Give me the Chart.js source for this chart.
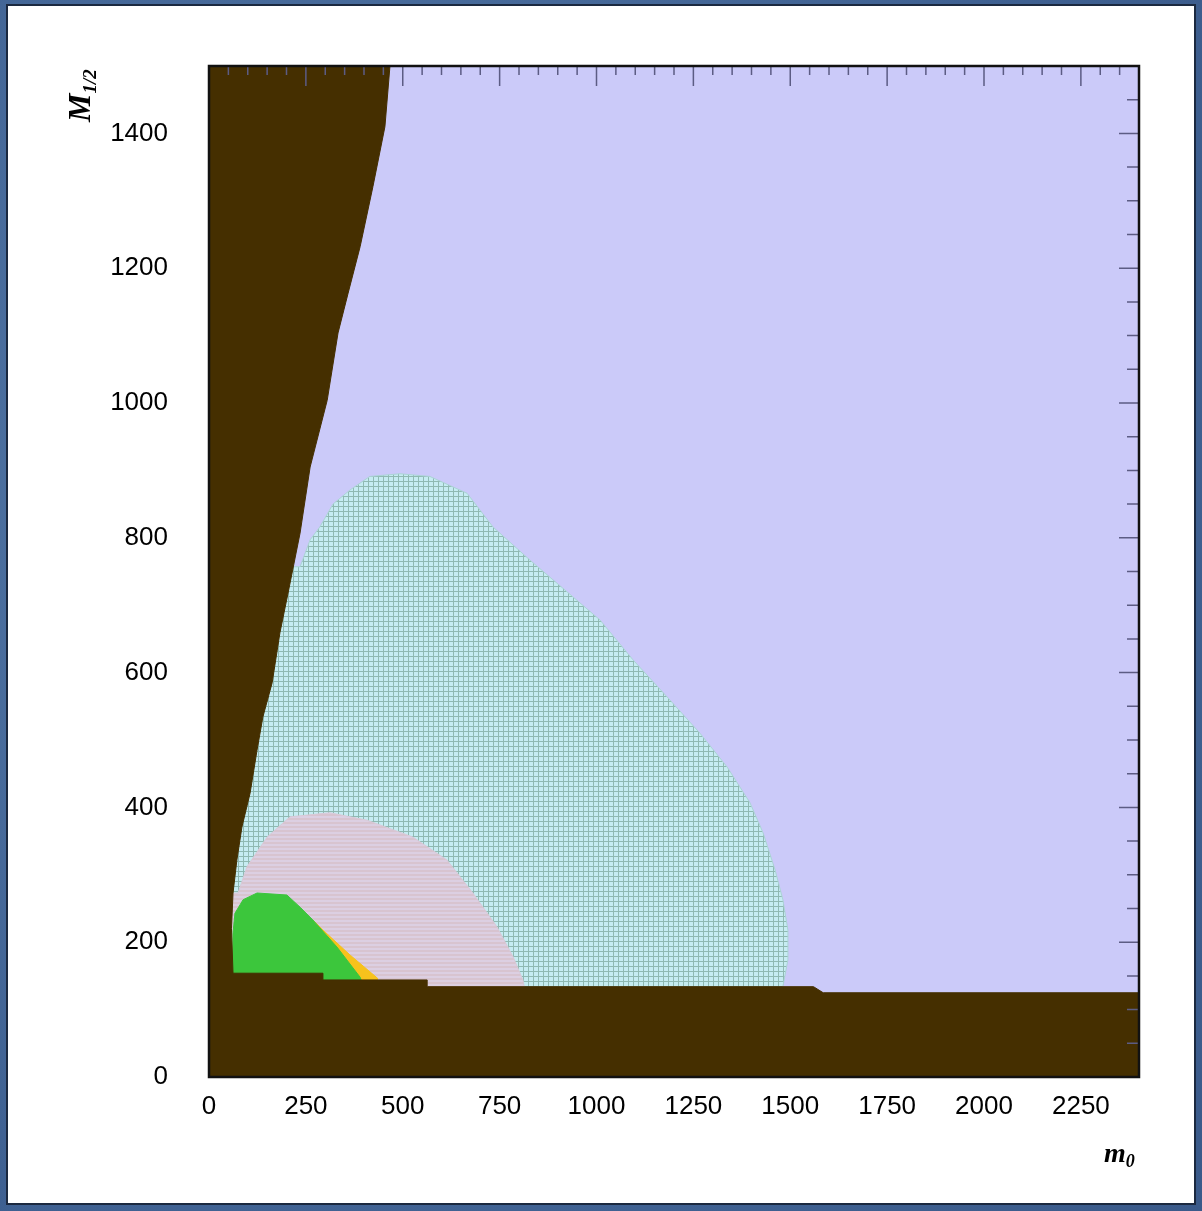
<!DOCTYPE html>
<html>
<head>
  <title>m0 - M1/2 plane</title>
  <script src="https://cdn.jsdelivr.net/npm/chart.js"></script>
  <style>
    body { margin: 0; width: 1202px; height: 1211px; overflow: hidden;
           background: radial-gradient(circle at 30% 40%, #5479a8, #3f6192 70%, #3a5a8a); }
    .panel { position: absolute; left: 8px; top: 6px; width: 1186px; height: 1197px;
             background: #fff; box-shadow: 0 0 0 2px #1b2940; }
  </style>
</head>
<body>
  <div class="panel">
    <canvas id="plane"></canvas>
  </div>

  <script>
    // tick labels
    const xTicks = [0, 250, 500, 750, 1000, 1250, 1500, 1750, 2000, 2250];
    const yTicks = [0, 200, 400, 600, 800, 1000, 1200, 1400];

    // excluded region (dark brown): left wedge + bottom band
    const excludedX = [0, 2400, 2400, 1585, 1560, 563, 563, 294, 294, 62, 58, 62, 72, 85, 106, 124, 139, 163, 183, 204, 235, 261, 305, 333, 359, 390, 423, 454, 467, 0];
    const excludedY = [0, 0, 125, 125, 134, 134, 144, 144, 154, 154, 220, 273, 322, 371, 421, 485, 534, 585, 659, 718, 807, 905, 1004, 1104, 1163, 1232, 1321, 1410, 1500, 1500];

    // large dotted region
    const gridX = [0, 1481, 1481, 1494, 1494, 1481, 1461, 1430, 1396, 1337, 1267, 1182, 1094, 1009, 828, 733, 666, 570, 493, 415, 364, 320, 286, 261, 235, 0];
    const gridY = [125, 125, 134, 174, 218, 263, 307, 362, 407, 460, 510, 564, 619, 678, 767, 816, 866, 891, 895, 891, 871, 850, 816, 797, 757, 757];

    // striped region
    const stripeX = [58, 60, 75, 98, 150, 209, 312, 408, 526, 614, 681, 743, 785, 810, 815];
    const stripeY = [130, 273, 273, 312, 356, 386, 392, 381, 356, 322, 273, 223, 178, 144, 130];

    // orange strip
    const orangeX = [268, 294, 364, 434, 434, 380];
    const orangeY = [233, 218, 181, 147, 140, 140];

    // green region
    const greenX = [60, 62, 67, 88, 124, 201, 235, 268, 330, 390, 395];
    const greenY = [140, 214, 243, 263, 273, 270, 252, 233, 193, 148, 140];

    function makePattern(size, draw) {
      const c = document.createElement('canvas');
      c.width = size; c.height = size;
      draw(c.getContext('2d'));
      return c.getContext('2d').createPattern(c, 'repeat');
    }

    const dotted = makePattern(5, g => {
      g.fillStyle = '#c6ecf2';
      g.fillRect(0, 0, 5, 5);
      g.fillStyle = '#8fb9b2';
      g.fillRect(0, 0, 5, 1);
      g.fillRect(0, 0, 1, 5);
    });

    const striped = makePattern(4, g => {
      g.fillStyle = '#dccfe2';
      g.fillRect(0, 0, 4, 4);
      g.fillStyle = '#d8c4d0';
      g.fillRect(0, 0, 4, 2);
    });

    function region(label, xs, ys, fill, edge) {
      return {
        label: label,
        data: xs.map((x, i) => ({ x: x, y: ys[i] })),
        backgroundColor: fill,
        borderColor: edge,
        borderWidth: 1,
        pointRadius: 0,
        tension: 0,
        fill: 'shape'
      };
    }

    const plotBg = {
      id: 'plotBg',
      beforeDatasetsDraw(chart) {
        const { ctx, chartArea: a } = chart;
        ctx.save();
        ctx.fillStyle = '#cbcaf9';
        ctx.fillRect(a.left, a.top, a.right - a.left, a.bottom - a.top);
        ctx.restore();
      }
    };

    const frame = {
      id: 'frame',
      afterDatasetsDraw(chart) {
        const { ctx, chartArea: a, scales } = chart;
        ctx.save();
        ctx.strokeStyle = '#5c5c84';
        ctx.lineWidth = 1.5;
        ctx.beginPath();
        for (let v = 0; v <= 2400; v += 50) {
          const px = scales.x.getPixelForValue(v);
          const len = xTicks.includes(v) ? 20 : 9;
          ctx.moveTo(px, a.top);
          ctx.lineTo(px, a.top + len);
        }
        for (let v = 0; v <= 1500; v += 50) {
          const py = scales.y.getPixelForValue(v);
          const len = yTicks.includes(v) ? 20 : 12;
          ctx.moveTo(a.right, py);
          ctx.lineTo(a.right - len, py);
        }
        ctx.stroke();
        ctx.strokeStyle = '#111';
        ctx.lineWidth = 2.5;
        ctx.strokeRect(a.left, a.top, a.right - a.left, a.bottom - a.top);

        // axis titles
        ctx.fillStyle = '#000';
        ctx.textBaseline = 'alphabetic';
        ctx.textAlign = 'left';
        ctx.save();
        ctx.translate(82, 116);
        ctx.rotate(-Math.PI / 2);
        ctx.font = 'italic bold 32px "Liberation Serif"';
        ctx.fillText('M', 0, 0);
        const w = ctx.measureText('M').width;
        ctx.font = 'italic bold 19px "Liberation Serif"';
        ctx.fillText('1/2', w, 6);
        ctx.restore();

        ctx.font = 'italic bold 28px "Liberation Serif"';
        ctx.fillText('m', 1096, 1156);
        const mw = ctx.measureText('m').width;
        ctx.font = 'italic bold 18px "Liberation Serif"';
        ctx.fillText('0', 1096 + mw, 1161);
        ctx.restore();
      }
    };

    const tickFont = { family: 'Liberation Sans', size: 26 };

    new Chart(document.getElementById('plane').getContext('2d'), {
      type: 'line',
      data: {
        datasets: [
          region('excluded', excludedX, excludedY, '#452f00', '#452f00'),
          region('green', greenX, greenY, '#3cc63c', '#3cc63c'),
          region('orange', orangeX, orangeY, '#f7c21c', '#f7c21c'),
          region('striped', stripeX, stripeY, striped, '#d9cad8'),
          region('dotted', gridX, gridY, dotted, '#abd4d6')
        ]
      },
      options: {
        animation: false,
        responsive: true,
        maintainAspectRatio: false,
        layout: { padding: { top: 60, right: 55, bottom: 76, left: 0 } },
        plugins: { legend: { display: false }, tooltip: { enabled: false } },
        scales: {
          x: {
            type: 'linear', min: 0, max: 2400,
            afterBuildTicks: s => { s.ticks = xTicks.map(v => ({ value: v })); },
            afterFit: s => { s.height = 50; },
            grid: { display: false, drawTicks: false },
            border: { display: false },
            ticks: { color: '#000', font: tickFont, padding: 14, maxRotation: 0, autoSkip: false,
                     callback: v => String(v) }
          },
          y: {
            type: 'linear', min: 0, max: 1500,
            afterBuildTicks: s => { s.ticks = yTicks.map(v => ({ value: v })); },
            afterFit: s => { s.width = 201; },
            grid: { display: false, drawTicks: false },
            border: { display: false },
            ticks: { color: '#000', font: tickFont, padding: 41, autoSkip: false,
                     callback: v => String(v) }
          }
        }
      },
      plugins: [plotBg, frame]
    });
  </script>
</body>
</html>
